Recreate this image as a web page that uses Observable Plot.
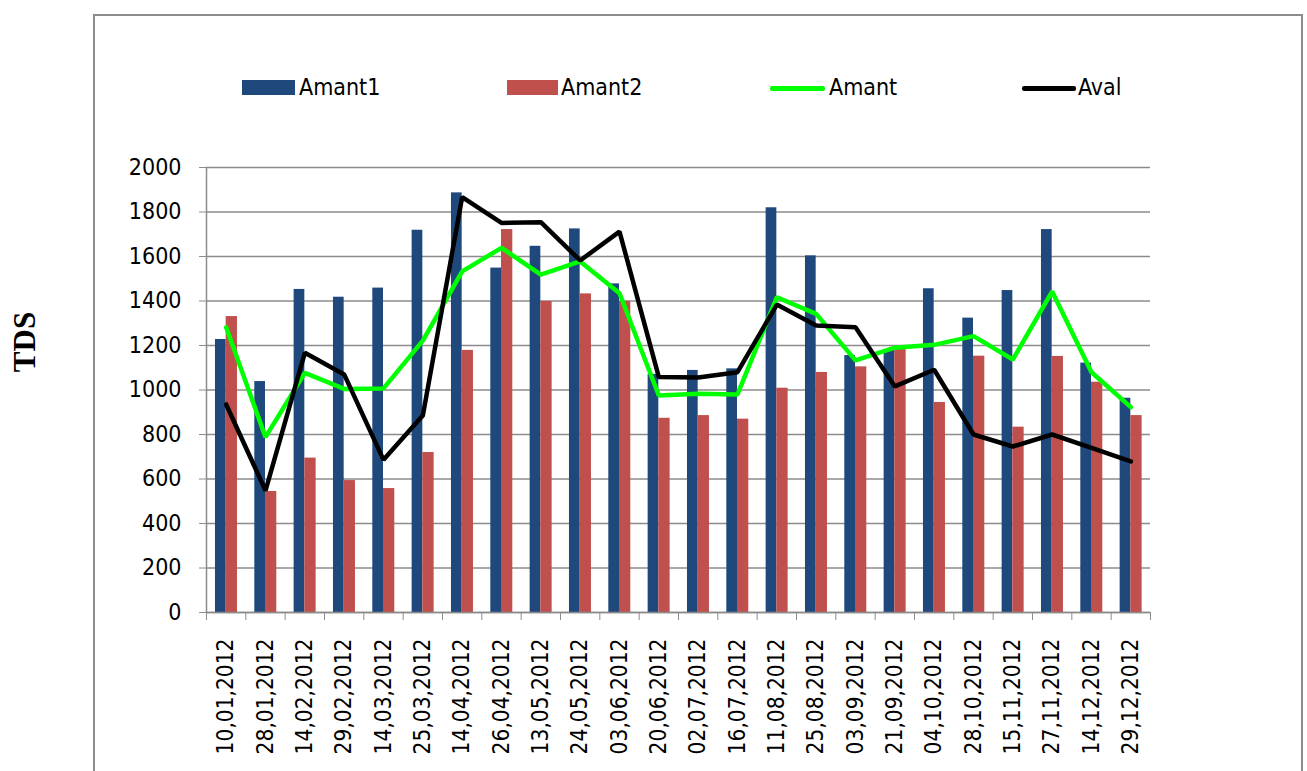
<!DOCTYPE html>
<html>
<head>
<meta charset="utf-8">
<script src="https://cdn.jsdelivr.net/npm/d3@7"></script>
<script src="https://cdn.jsdelivr.net/npm/@observablehq/plot@0.6"></script>
<style>
  html, body { margin: 0; padding: 0; background: #fff; }
  body { width: 1307px; height: 771px; overflow: hidden; position: relative; font-family: "DejaVu Sans Condensed", "Open Sans", sans-serif; }
  #frame { position: absolute; left: 93px; top: 14px; width: 1210px; height: 800px; border: 2px solid #8c8c8c; box-sizing: border-box; }
  #legend { position: absolute; left: 0; top: 0; width: 1307px; height: 120px; }
  .sw { position: absolute; }
  .lt { position: absolute; font-size: 23px; line-height: 23px; color: #000; white-space: nowrap; }
  #ylabel { position: absolute; left: 25px; top: 342px; transform: translate(-50%, -50%) rotate(-90deg); font-family: "Liberation Serif", serif; font-weight: bold; font-size: 31px; white-space: nowrap; }
  #chart { position: absolute; left: 0; top: 120px; }
</style>
</head>
<body>
<div id="frame"></div>
<div id="legend"></div>
<div id="ylabel">TDS</div>
<div id="chart"></div>
<script>
const dates = ["10,01,2012","28,01,2012","14,02,2012","29,02,2012","14,03,2012","25,03,2012","14,04,2012","26,04,2012","13,05,2012","24,05,2012","03,06,2012","20,06,2012","02,07,2012","16,07,2012","11,08,2012","25,08,2012","03,09,2012","21,09,2012","04,10,2012","28,10,2012","15,11,2012","27,11,2012","14,12,2012","29,12,2012"];
const amant1 = [1227,1038,1452,1417,1458,1718,1886,1548,1646,1724,1477,1070,1088,1095,1819,1603,1155,1178,1455,1323,1447,1721,1121,963];
const amant2 = [1330,544,694,593,557,719,1178,1721,1398,1432,1398,873,885,869,1008,1079,1104,1185,944,1152,833,1151,1035,885];
const amant = [1282,788,1077,1005,1007,1222,1533,1639,1519,1578,1435,975,983,980,1417,1342,1133,1190,1203,1242,1137,1443,1080,923];
const aval = [935,548,1167,1070,686,885,1867,1751,1754,1582,1712,1058,1056,1080,1384,1290,1282,1016,1091,800,746,800,740,679];
const yTicks = [0,200,400,600,800,1000,1200,1400,1600,1800,2000];
const seriesNames = ["Amant1","Amant2","Amant","Aval"];
const colors = ["#1F497D","#C0504D","#00FF00","#000000"];

const rows = dates.map((d, i) => ({date: d, a1: amant1[i], a2: amant2[i], am: amant[i], av: aval[i]}));

const W = 1307, H = 651;
const mL = 206, mR = 157, mT = 47, mB = 159;
const bw = (W - mL - mR) / dates.length;
const grey = "#8c8c8c";
const FONT = "'DejaVu Sans Condensed', 'Open Sans', sans-serif";

const chart = Plot.plot({
  width: W, height: H,
  marginLeft: mL, marginRight: mR, marginTop: mT, marginBottom: mB,
  style: {fontFamily: FONT, background: "transparent", overflow: "visible"},
  x: {type: "band", domain: dates, padding: 0, round: false, label: null},
  y: {domain: [0, 2000], label: null},
  marks: [
    Plot.gridY(yTicks, {stroke: grey, strokeOpacity: 1, strokeWidth: 1.5}),
    Plot.barY(rows, {x: "date", y: "a1", fill: colors[0], insetLeft: bw / 2 - 10.7, insetRight: bw / 2}),
    Plot.barY(rows, {x: "date", y: "a2", fill: colors[1], insetLeft: bw / 2, insetRight: bw / 2 - 11.3}),
    Plot.ruleY([0], {stroke: grey, strokeWidth: 1.5}),
    Plot.ruleX([dates[0]], {dx: -bw / 2, stroke: grey, strokeWidth: 1.5}),
    Plot.axisY(yTicks, {tickSize: 7, tickPadding: 18, fontSize: 23, stroke: grey, fill: "black", tickFormat: d => String(d), label: null}),
    Plot.axisX(dates, {tickSize: 0, tickRotate: -90, tickPadding: 26, fontSize: 22.5, fill: "black", label: null}),
    Plot.axisX(dates, {tickSize: 8, tickFormat: () => "", dx: -bw / 2, stroke: grey, label: null}),
    Plot.axisX([dates[dates.length - 1]], {tickSize: 8, tickFormat: () => "", dx: bw / 2, stroke: grey, label: null}),
    Plot.lineY(rows, {x: "date", y: "am", stroke: colors[2], strokeWidth: 4.5, strokeLinejoin: "miter", strokeLinecap: "round"}),
    Plot.lineY(rows, {x: "date", y: "av", stroke: colors[3], strokeWidth: 4.5, strokeLinejoin: "miter", strokeLinecap: "round"})
  ]
});
document.getElementById("chart").appendChild(chart);

// legend
const legend = document.getElementById("legend");
const items = [
  {sx: 242, sw: 53, type: "rect", tx: 299},
  {sx: 507, sw: 51, type: "rect", tx: 561},
  {sx: 770, sw: 55, type: "line", tx: 829},
  {sx: 1022, sw: 54, type: "line", tx: 1078}
];
items.forEach((it, i) => {
  const s = document.createElement("div");
  s.className = "sw";
  s.style.left = it.sx + "px";
  s.style.width = it.sw + "px";
  s.style.background = colors[i];
  if (it.type === "rect") { s.style.top = "80px"; s.style.height = "15px"; }
  else { s.style.top = "86px"; s.style.height = "4.5px"; s.style.borderRadius = "2px"; }
  legend.appendChild(s);
  const t = document.createElement("div");
  t.className = "lt";
  t.style.left = it.tx + "px";
  t.style.top = "76px";
  t.textContent = seriesNames[i];
  legend.appendChild(t);
});
</script>
</body>
</html>
